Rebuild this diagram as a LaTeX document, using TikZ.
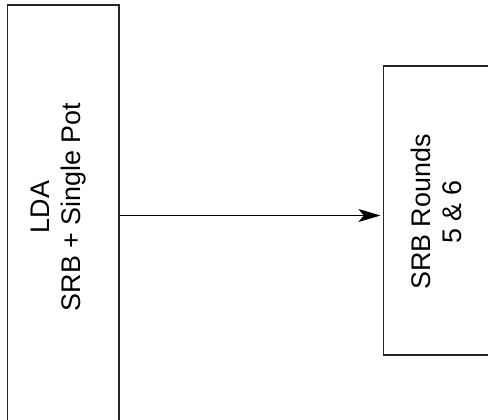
\documentclass[tikz,border=0pt]{standalone}
\usepackage{fontspec}
\setmainfont{Liberation Sans}
\usetikzlibrary{arrows.meta,calc}
\begin{document}
\begin{tikzpicture}[x=1bp,y=-1bp,
  boxnode/.style={draw=black!85,line width=1.2bp,minimum width=#1,inner sep=0pt},
  txt/.style={rotate=90,align=center,inner sep=0pt,font=\fontsize{27}{31}\selectfont},
  conn/.style={draw=black,line width=0.9bp,-{Stealth[length=22bp,width=13bp,inset=5.5bp]},shorten >=2.5bp}]
\clip (0,0) rectangle (488,419);
\node[boxnode=111.5bp,minimum height=430bp] (lda) at (63.25,220) {};
\node[boxnode=112bp,minimum height=289bp] (rnd) at (439.5,210.5) {};
\node[txt] (ldatext) at (58.5,207) {LDA\\SRB + Single Pot};
\node[txt] (rndtext) at (436,212) {SRB Rounds\\5 \& 6};
\coordinate (arr) at (250,215.5);
\draw[conn] (lda.east |- arr) -- (rnd.west |- arr);
\end{tikzpicture}
\end{document}
